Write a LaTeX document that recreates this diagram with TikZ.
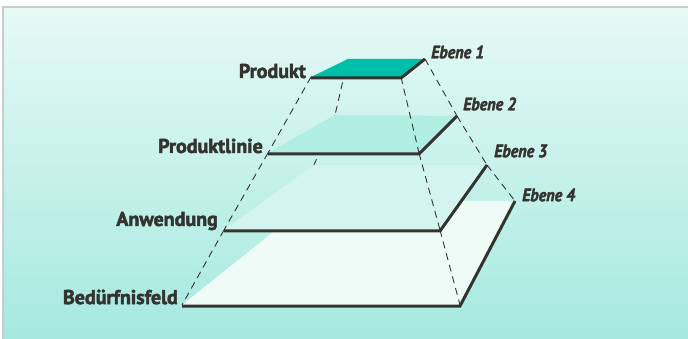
\documentclass[tikz,border=0pt]{standalone}
\usepackage{fontspec}
\setmainfont{PT Sans}
\newfontfamily\labelfont{PT Sans}[FakeBold=2.4]
\newfontfamily\levelfont{PT Sans}[FakeStretch=0.9, FakeBold=2]
\definecolor{bgtop}{HTML}{E6F9F5}
\definecolor{bgbot}{HTML}{A5E9DF}
\definecolor{framegrey}{HTML}{CCCCCC}
\definecolor{inkdark}{HTML}{33332F}
\definecolor{topface}{HTML}{00BFA8}
\definecolor{facetwo}{HTML}{B0EDE3}
\definecolor{facethree}{HTML}{D4F5EF}
\definecolor{facefour}{HTML}{EEFBF7}
\tikzset{
  levelname/.style={font=\labelfont\bfseries\fontsize{20}{20}\selectfont, text=inkdark, inner sep=0pt, anchor=east},
  levelno/.style={font=\levelfont\bfseries\itshape\fontsize{18}{18}\selectfont, text=inkdark, inner sep=0pt, anchor=west},
  hidden/.style={draw=inkdark, line width=0.9pt, dash pattern=on 7pt off 5pt},
  slabedge/.style={draw=inkdark, line width=3pt, line join=miter, line cap=butt}
}
\begin{document}
\begin{tikzpicture}[x=1pt,y=-1pt]
\useasboundingbox (0,0) rectangle (688,339);
% panel background with its grey frame
\fill[white] (0,0) rectangle (688,339);
\shade[top color=bgtop, bottom color=bgbot] (4,8) rectangle (688,339);
\draw[framegrey, line width=2.2pt] (3,339) -- (3,7) -- (688,7);

% corners of the four levels: front-left, front-right, back-right, back-left
\coordinate (a1) at (311,77);  \coordinate (b1) at (401,77);
\coordinate (c1) at (425,59);  \coordinate (d1) at (348,59);
\coordinate (a2) at (268,153); \coordinate (b2) at (419,153);
\coordinate (c2) at (457,116); \coordinate (d2) at (335,115);
\coordinate (a3) at (224,230); \coordinate (b3) at (440,230);
\coordinate (c3) at (487,165); \coordinate (d3) at (314,165);
\coordinate (a4) at (182,305); \coordinate (b4) at (460,305);
\coordinate (c4) at (515,201); \coordinate (d4) at (312,201);

% hidden back-left edges, covered by the planes
\draw[hidden] (d1) -- (d2);
\draw[hidden] (d2) -- (d3);

% planes, from the bottom level up
\fill[facefour]  (a4) -- (b4) -- (c4) -- (d4) -- cycle;
\fill[facethree] (a3) -- (b3) -- (c3) -- (d3) -- cycle;
\fill[facetwo]   (a2) -- (b2) -- (c2) -- (d2) -- cycle;
\fill[topface]   (a1) -- (b1) -- (c1) -- (d1) -- cycle;

% visible edges of the frustum
\draw[hidden] (a1) -- (a2);
\draw[hidden] (a2) -- (a3);
\draw[hidden] (a3) -- (a4);
\draw[hidden] (b1) -- (b2);
\draw[hidden] (b2) -- (b3);
\draw[hidden] (b3) -- (b4);
\draw[hidden] (c1) -- (c2);
\draw[hidden] (c2) -- (c3);
\draw[hidden] (c3) -- (c4);

% dark front and right edges of each level
\draw[slabedge] ([yshift=-1pt]a1) -- ([yshift=-1pt]b1) -- (c1);
\draw[slabedge] ([yshift=-1pt]a2) -- ([yshift=-1pt]b2) -- (c2);
\draw[slabedge] ([yshift=-1pt]a3) -- ([yshift=-1pt]b3) -- (c3);
\draw[slabedge] ([yshift=-1pt]a4) -- ([yshift=-1pt]b4) -- (c4);

% level names
\node[levelname] (produkt) at (306,71) {Produkt};
\node[levelname] (linie) at (263,146) {Produktlinie};
\node[levelname] (anwendung) at (218,221) {Anwendung};
\node[levelname] (feld) at (178,297) {Bedürfnisfeld};

% level numbers
\node[levelno] (e1) at (431,52) {Ebene 1};
\node[levelno] (e2) at (463,104) {Ebene 2};
\node[levelno] (e3) at (494,151) {Ebene 3};
\node[levelno] (e4) at (522,195) {Ebene 4};
\end{tikzpicture}
\end{document}
